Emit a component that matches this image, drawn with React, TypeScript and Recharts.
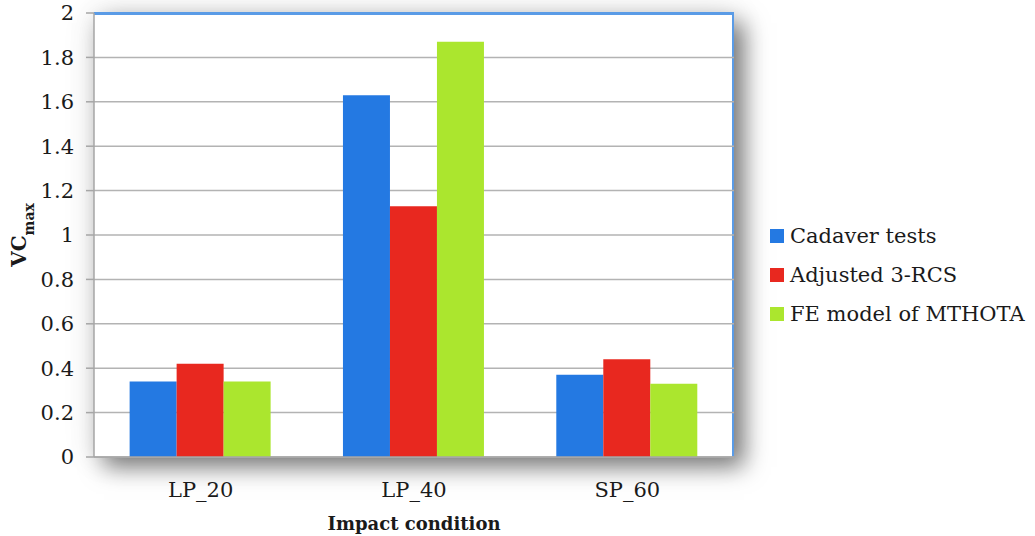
import React from 'react';
import { BarChart, Bar, XAxis, YAxis, CartesianGrid, Legend, Label, ReferenceLine } from 'recharts';

// chart values
const categories = ['LP_20', 'LP_40', 'SP_60'];
const cadaverTests = [0.34, 1.63, 0.37];
const adjusted3RCS = [0.42, 1.13, 0.44];
const feModelMTHOTA = [0.34, 1.87, 0.33];
const yTicks = [0, 0.2, 0.4, 0.6, 0.8, 1, 1.2, 1.4, 1.6, 1.8, 2];

const seriesNames = ['Cadaver tests', 'Adjusted 3-RCS', 'FE model of MTHOTA'];
const seriesKeys = ['cadaver', 'adjusted', 'feModel'];
const seriesColors = ['#2479e2', '#e8281f', '#abe62e'];

const data = categories.map((condition, i) => ({
  condition,
  cadaver: cadaverTests[i],
  adjusted: adjusted3RCS[i],
  feModel: feModelMTHOTA[i],
}));

const FONT = '"DejaVu Serif", "Liberation Serif", serif';
const TEXT = '#1a1a1a';
const GRID = '#b3b3b3';
const BORDER = '#5a9be6';

// plot box (used only for the shadow panel behind the svg)
const PLOT = { left: 94, top: 13, width: 640, height: 444 };

const LegendContent = (props: any) => {
  const items = [...(props.payload || [])].sort(
    (a: any, b: any) => seriesNames.indexOf(a.value) - seriesNames.indexOf(b.value)
  );
  return (
    <div style={{ fontFamily: FONT, fontSize: 21, color: TEXT }}>
      {items.map((entry: any) => (
        <div key={entry.value} style={{ display: 'flex', alignItems: 'center', height: 39 }}>
          <span style={{ width: 14, height: 14, background: entry.color, marginRight: 6, display: 'inline-block' }} />
          <span style={{ whiteSpace: 'nowrap' }}>{entry.value}</span>
        </div>
      ))}
    </div>
  );
};

const YLabel = (props: any) => {
  const { viewBox } = props;
  const cy = viewBox.y + viewBox.height / 2;
  return (
    <text
      transform={`translate(26,${cy}) rotate(-90)`}
      textAnchor="middle"
      fontFamily={FONT}
      fontWeight="bold"
      fontSize={20}
      fill={TEXT}
    >
      VC
      <tspan fontSize={14} dy={8}>max</tspan>
    </text>
  );
};

const XLabel = (props: any) => {
  const { viewBox } = props;
  return (
    <text
      x={viewBox.x + viewBox.width / 2}
      y={viewBox.y + 73}
      textAnchor="middle"
      fontFamily={FONT}
      fontWeight="bold"
      fontSize={18}
      fill={TEXT}
    >
      Impact condition
    </text>
  );
};

const App: React.FC = () => {
  return (
    <div style={{ position: 'absolute', left: 0, top: 0, width: 1035, height: 536, background: '#fff', overflow: 'hidden' }}>
      {/* shadowed plot panel */}
      <div
        style={{
          position: 'absolute',
          left: PLOT.left,
          top: PLOT.top,
          width: PLOT.width,
          height: PLOT.height,
          boxSizing: 'border-box',
          background: '#fff',
          borderTop: `2px solid ${BORDER}`,
          borderRight: `2px solid ${BORDER}`,
          boxShadow: '10px 10px 22px rgba(0,0,0,0.5), 0 0 30px rgba(0,0,0,0.12)',
        }}
      />
      <div style={{ position: 'absolute', left: 0, top: 0 }}>
        <BarChart
          width={1035}
          height={536}
          data={data}
          margin={{ top: 13, right: 36, bottom: 0, left: 0 }}
          barCategoryGap="16.7%"
          barGap={0}
          style={{ fontFamily: FONT }}
        >
          <CartesianGrid vertical={false} stroke={GRID} strokeWidth={1.5} />
          <ReferenceLine y={2} stroke={BORDER} strokeWidth={2} />
          <XAxis
            dataKey="condition"
            height={79}
            tickLine={false}
            tickSize={0}
            tickMargin={25}
            axisLine={{ stroke: '#a6a6a6', strokeWidth: 1.5 }}
            tick={{ fill: TEXT, fontSize: 21, fontFamily: FONT }}
          >
            <Label content={XLabel} />
          </XAxis>
          <YAxis
            width={94}
            domain={[0, 2]}
            ticks={yTicks}
            interval={0}
            tickSize={8}
            tickMargin={12}
            axisLine={{ stroke: '#a6a6a6', strokeWidth: 1.5 }}
            tickLine={{ stroke: '#a6a6a6', strokeWidth: 1.5 }}
            tick={{ fill: TEXT, fontSize: 21, fontFamily: FONT }}
          >
            <Label content={YLabel} />
          </YAxis>
          <Legend
            layout="vertical"
            align="right"
            verticalAlign="middle"
            width={265}
            content={LegendContent}
            wrapperStyle={{ left: 770, top: 216, width: 265 }}
          />
          {seriesKeys.map((key, i) => (
            <Bar
              key={key}
              dataKey={key}
              name={seriesNames[i]}
              fill={seriesColors[i]}
              isAnimationActive={false}
            />
          ))}
        </BarChart>
      </div>
    </div>
  );
};

export default App;
